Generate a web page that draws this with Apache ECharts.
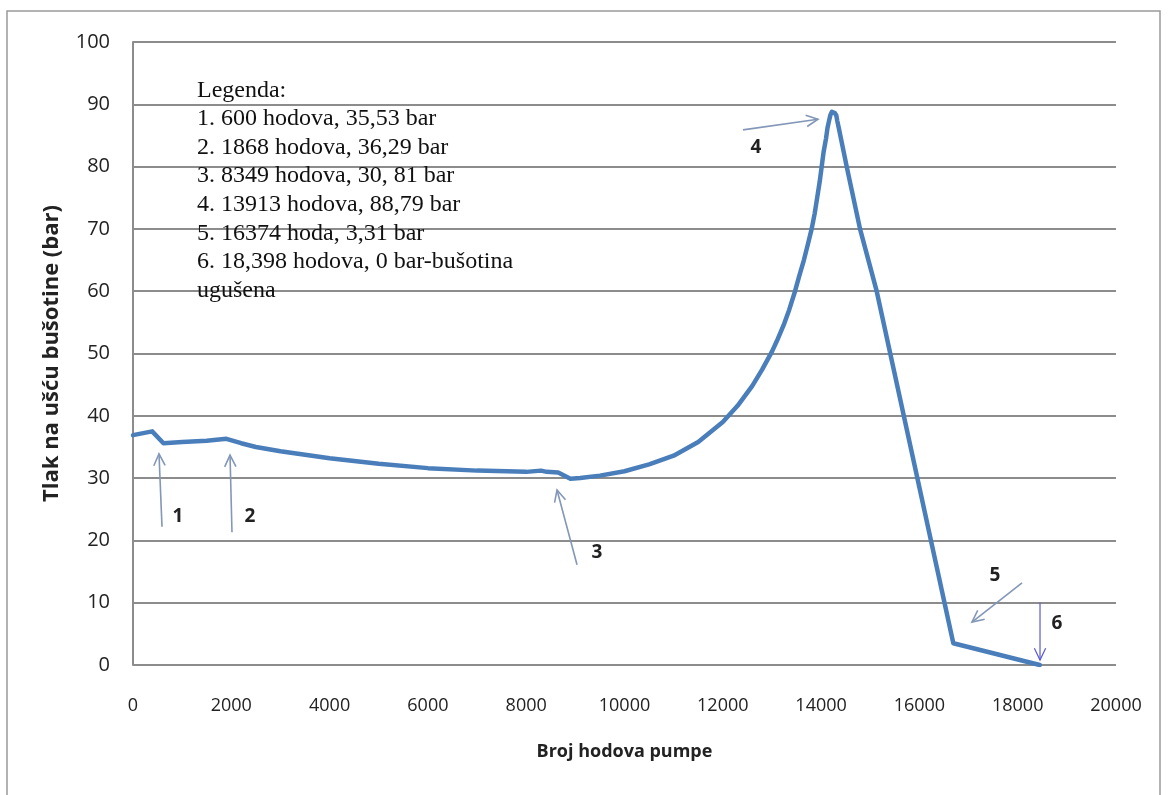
<!DOCTYPE html>
<html><head><meta charset="utf-8">
<script src="https://cdn.jsdelivr.net/npm/echarts@6/dist/echarts.min.js"></script>
<style>html,body{margin:0;padding:0;background:#fff}#c{width:1168px;height:795px}</style>
</head><body><div id="c"></div>
<script>
// Broj hodova pumpe (x) and tlak (bar) (y)
const strokes  = [0, 390, 620, 1000, 1500, 1900, 2200, 2500, 3000, 4000, 5000, 6000, 7000, 8000, 8300, 8340, 8420, 8650, 8900, 9100, 9500, 10000, 10500, 11000, 11500, 12000, 12300, 12600, 12800, 13000, 13100, 13250, 13350, 13470, 13550, 13650, 13730, 13808, 13870, 13920, 13970, 14012, 14050, 14100, 14130, 14160, 14190, 14220, 14250, 14280, 14310, 14330, 14360, 14521, 14792, 15131, 16690, 18450];
const pressure = [36.9, 37.5, 35.6, 35.8, 36.0, 36.3, 35.6, 35.0, 34.3, 33.2, 32.3, 31.6, 31.2, 31.0, 31.2, 31.5, 31.0, 30.9, 29.9, 30.0, 30.4, 31.1, 32.2, 33.6, 35.8, 39.0, 41.6, 44.8, 47.4, 50.3, 52.0, 54.8, 57.0, 60.0, 62.3, 65.0, 67.5, 70.0, 72.5, 75.0, 77.5, 80.0, 82.3, 84.5, 86.2, 87.3, 88.3, 88.8, 88.9, 88.6, 88.2, 87.3, 86.2, 80.0, 70.0, 60.0, 3.5, 0.0];

// Arrow annotations (data coordinates)
const arrowLabels = ['1', '2', '3', '4', '5', '6'];
const arrowX0 = [590, 2014, 9034, 12411, 18088, 18454];
const arrowY0 = [22.2, 21.3, 16.1, 85.9, 13.2, 10.0];
const arrowX1 = [529, 1974, 8627, 13937, 17070, 18454];
const arrowY1 = [33.9, 33.7, 28.1, 87.6, 6.9, 0.8];
const labelX  = [916, 2380, 9440, 12676, 17538, 18800];
const labelY  = [23.8, 23.8, 18.1, 83.0, 14.4, 6.7];

const xTicks = [0, 2000, 4000, 6000, 8000, 10000, 12000, 14000, 16000, 18000, 20000];
const yTicks = [0, 10, 20, 30, 40, 50, 60, 70, 80, 90, 100];

const legendLines = [
  'Legenda:',
  '1. 600 hodova, 35,53 bar',
  '2. 1868 hodova, 36,29 bar',
  '3. 8349 hodova, 30, 81 bar',
  '4. 13913 hodova, 88,79 bar',
  '5. 16374 hoda, 3,31 bar',
  '6. 18,398 hodova, 0 bar-bušotina',
  'ugušena'
];

const lineData = strokes.map((s, i) => [s, pressure[i]]);
const arrowData = arrowLabels.map((l, i) => [arrowX0[i], arrowY0[i], arrowX1[i], arrowY1[i], labelX[i], labelY[i], i]);

const chart = echarts.init(document.getElementById('c'));
chart.setOption({
  animation: false,
  backgroundColor: '#fff',
  grid: { left: 133, right: 52, top: 42, bottom: 130 },
  xAxis: {
    type: 'value', min: xTicks[0], max: xTicks[xTicks.length - 1], interval: 2000,
    name: 'Broj hodova pumpe', nameLocation: 'middle', nameGap: 78,
    nameTextStyle: { fontFamily: 'Open Sans', fontWeight: 'bold', fontSize: 18, color: '#222' },
    axisLine: { show: false }, axisTick: { show: false },
    splitLine: { show: false },
    axisLabel: { margin: 32, fontFamily: 'Open Sans', fontSize: 18, color: '#222', formatter: v => String(v) }
  },
  yAxis: {
    type: 'value', min: yTicks[0], max: yTicks[yTicks.length - 1], interval: 10,
    name: 'Tlak na ušću bušotine (bar)', nameLocation: 'middle', nameGap: 70,
    nameTextStyle: { fontFamily: 'Open Sans', fontWeight: 'bold', fontSize: 22, color: '#222' },
    axisLine: { show: true, lineStyle: { color: '#8c8c8c', width: 2 } },
    axisTick: { show: false },
    splitLine: { show: true, lineStyle: { color: '#8c8c8c', width: 2 } },
    axisLabel: { margin: 23, fontFamily: 'Open Sans', fontSize: 20, color: '#222' }
  },
  graphic: [
    { type: 'rect', shape: { x: 7, y: 11, width: 1153, height: 800 },
      style: { fill: 'none', stroke: '#9a9a9a', lineWidth: 1.5 }, silent: true },
    { type: 'text', left: 197, top: 76, z: 10,
      style: { text: legendLines.join('\n'), font: '24px "Liberation Serif"', lineHeight: 28.6, fill: '#111' } }
  ],
  series: [
    {
      type: 'line', data: lineData, showSymbol: false, smooth: false,
      lineStyle: { color: '#4a7ebb', width: 4.5, join: 'round', cap: 'round' },
      z: 5
    },
    {
      type: 'custom', data: arrowData, z: 6,
      encode: { x: [0, 2, 4], y: [1, 3, 5] },
      renderItem: function (params, api) {
        const p0 = api.coord([api.value(0), api.value(1)]);
        const p1 = api.coord([api.value(2), api.value(3)]);
        const pl = api.coord([api.value(4), api.value(5)]);
        const idx = api.value(6);
        const color = idx === 5 ? '#5a5ad2' : '#8397b8';
        const lw = idx === 5 ? 1.2 : 1.6;
        const ang = Math.atan2(p1[1] - p0[1], p1[0] - p0[0]);
        const len = 13, spread = 0.45;
        const h1 = [p1[0] - len * Math.cos(ang - spread), p1[1] - len * Math.sin(ang - spread)];
        const h2 = [p1[0] - len * Math.cos(ang + spread), p1[1] - len * Math.sin(ang + spread)];
        return {
          type: 'group', children: [
            { type: 'line', shape: { x1: p0[0], y1: p0[1], x2: p1[0], y2: p1[1] }, style: { stroke: color, lineWidth: lw } },
            { type: 'polyline', shape: { points: [h1, p1, h2] }, style: { stroke: color, lineWidth: lw, fill: null } },
            { type: 'text', x: pl[0], y: pl[1],
              style: { text: arrowLabels[idx], font: 'bold 19px "Open Sans"', fill: '#222', align: 'center', verticalAlign: 'middle' } }
          ]
        };
      }
    }
  ]
});
</script></body></html>
